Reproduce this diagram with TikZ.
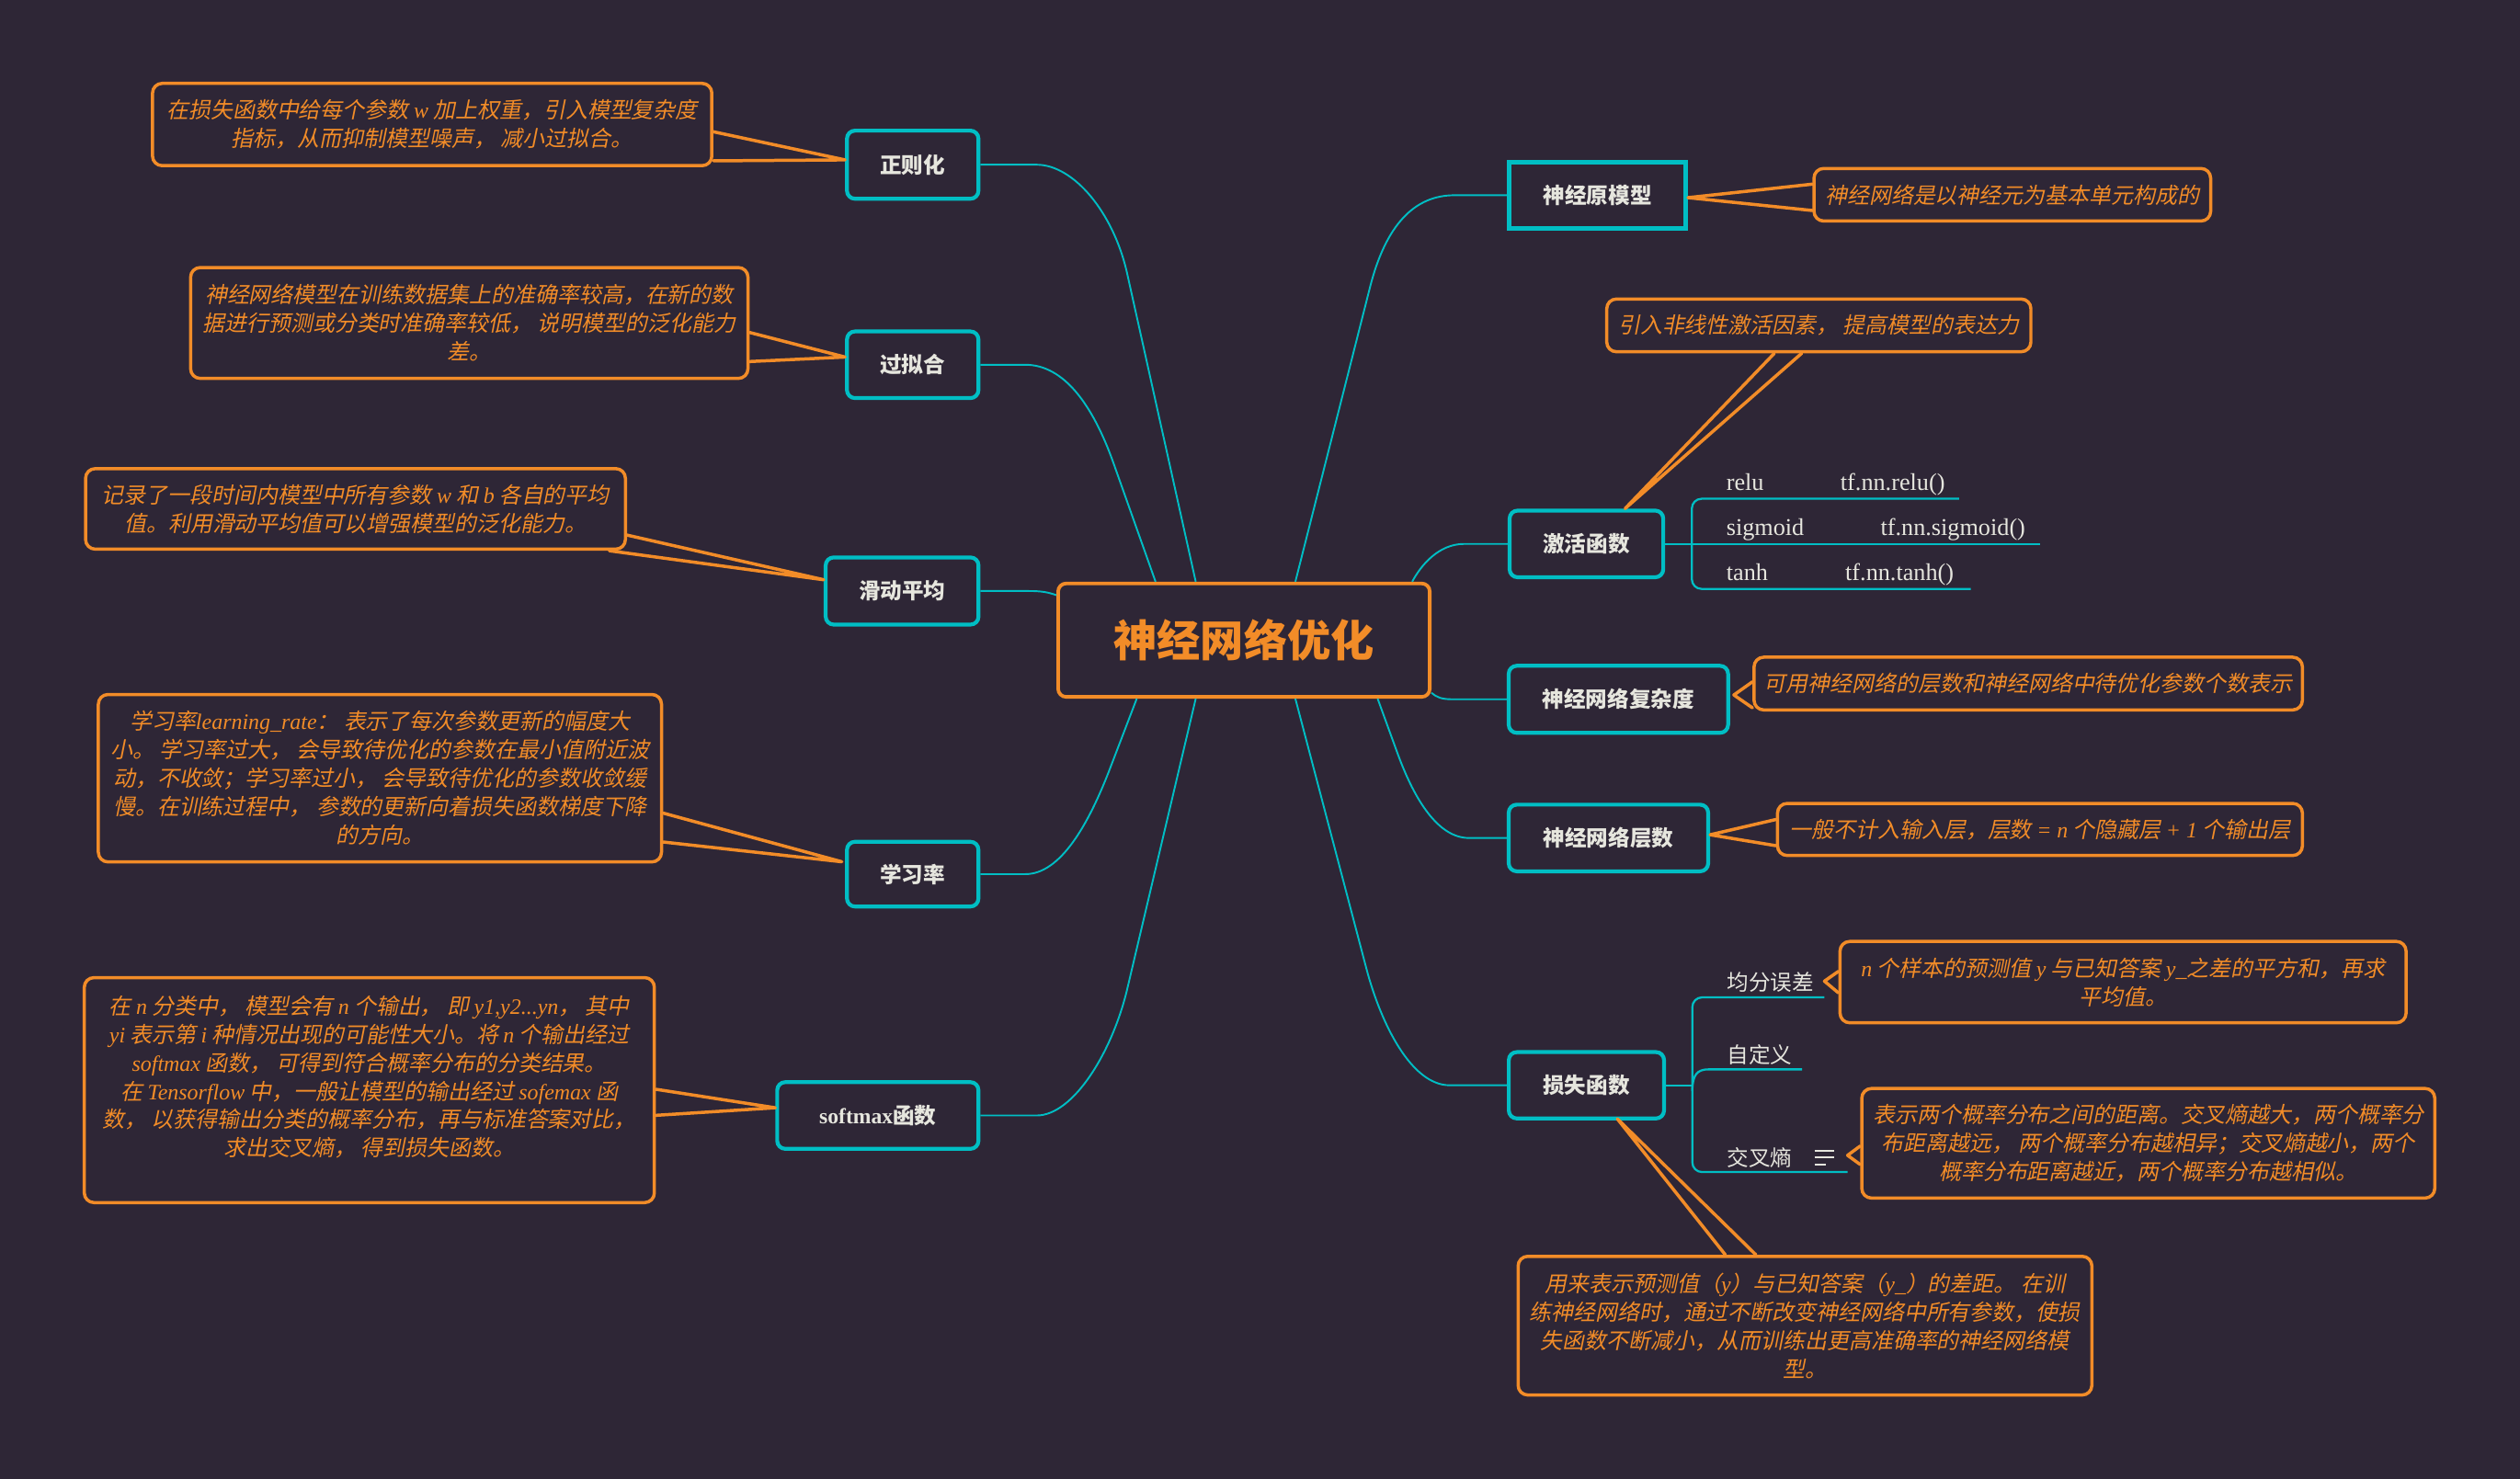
\documentclass[tikz,border=0pt]{standalone}
\usepackage{fontspec}
\setmainfont{Liberation Serif}
\newfontfamily\cjk{Noto Sans CJK SC}
\newfontfamily\cjkit{Noto Sans CJK SC}[FakeSlant=0.2]
\usetikzlibrary{calc}
\definecolor{bg}{RGB}{46,38,54}
\definecolor{org}{RGB}{242,140,40}
\definecolor{cyn}{RGB}{0,190,196}
\definecolor{lgt}{RGB}{230,230,222}
\newcommand\latn[1]{{\rmfamily\itshape #1}}
\tikzset{
  topic/.style={draw=cyn, line width=2.4pt, rounded corners=5pt, fill=bg, text=lgt,
    font=\cjk\bfseries\fontsize{13.5}{16}\selectfont, inner sep=0pt},
  desc/.style={draw=org, line width=2pt, rounded corners=6pt, fill=bg, text=org,
    font=\cjkit\fontsize{13.7}{17.7}\selectfont, align=center, inner sep=1pt},
  link/.style={draw=cyn, line width=1.1pt},
  sublink/.style={draw=cyn, line width=1.3pt},
  wedge/.style={draw=org, line width=2pt, line join=round, line cap=round},
  subA/.style={text=lgt, inner sep=0pt, anchor=base west, font=\rmfamily\fontsize{15}{18}\selectfont},
  subB/.style={text=lgt, inner sep=0pt, anchor=base west, font=\cjk\fontsize{13.5}{16}\selectfont},
}
\begin{document}
\begin{tikzpicture}[x=1pt,y=-1pt]
\fill[bg] (0,0) rectangle (1568,920.4);
\useasboundingbox (0,0) rectangle (1568,920.4);

% root
\node[draw=org, line width=2.2pt, rounded corners=5pt, fill=bg, text=org,
  font=\cjk\bfseries\fontsize{27}{30}\selectfont, minimum width=231.2pt, minimum height=70.6pt, inner sep=0pt]
  (root) at (774,398.4) {神经网络优化};

% left topics
\node[topic, minimum width=81.8pt, minimum height=42.4pt] (n1) at (567.9,102.5) {正则化};
\node[topic, minimum width=81.8pt, minimum height=41.5pt] (n2) at (567.9,227) {过拟合};
\node[topic, minimum width=95.1pt, minimum height=41.8pt] (n3) at (561.3,367.8) {滑动平均};
\node[topic, minimum width=81.8pt, minimum height=40.3pt] (n4) at (567.9,544) {学习率};
\node[topic, minimum width=125.2pt, minimum height=41.5pt] (n5) at (546.2,694.2) {{\rmfamily\bfseries softmax}函数};

% right topics
\node[topic, rounded corners=0pt, line width=2.8pt, minimum width=109.8pt, minimum height=41.5pt] (r1) at (994,121.5) {神经原模型};
\node[topic, minimum width=95.6pt, minimum height=41.5pt] (r2) at (987.1,338.5) {激活函数};
\node[topic, minimum width=136.5pt, minimum height=41.7pt] (r3) at (1007,435.2) {神经网络复杂度};
\node[topic, minimum width=124.1pt, minimum height=41.5pt] (r4) at (1000.8,521.5) {神经网络层数};
\node[topic, minimum width=96.6pt, minimum height=41.3pt] (r5) at (987.1,675.4) {损失函数};

% left descriptions
\node[desc, minimum width=348pt, minimum height=51.2pt] (d1) at (268.9,77.5)
 {在损失函数中给每个参数 \latn{w} 加上权重，引入模型复杂度\\指标，从而抑制模型噪声， 减小过拟合。};
\node[desc, minimum width=346.8pt, minimum height=69pt] (d2) at (292,201)
 {神经网络模型在训练数据集上的准确率较高，在新的数\\据进行预测或分类时准确率较低， 说明模型的泛化能力\\差。};
\node[desc, minimum width=335.9pt, minimum height=50.1pt] (d3) at (221.2,316.7)
 {记录了一段时间内模型中所有参数 \latn{w} 和 \latn{b} 各自的平均\\值。利用滑动平均值可以增强模型的泛化能力。};
\node[desc, minimum width=350.4pt, minimum height=104.2pt] (d4) at (236.4,484.3)
 {学习率\latn{learning\_rate}： 表示了每次参数更新的幅度大\\小。 学习率过大， 会导致待优化的参数在最小值附近波\\动，不收敛；学习率过小， 会导致待优化的参数收敛缓\\慢。在训练过程中， 参数的更新向着损失函数梯度下降\\的方向。};
\node[desc, minimum width=354.7pt, minimum height=140pt] (d5) at (229.8,678.4)
 {在 \latn{n} 分类中， 模型会有 \latn{n} 个输出， 即 \latn{y1,y2...yn}， 其中\\\latn{yi} 表示第 \latn{i} 种情况出现的可能性大小。将 \latn{n} 个输出经过\\\latn{softmax} 函数， 可得到符合概率分布的分类结果。\\在 \latn{Tensorflow} 中，一般让模型的输出经过 \latn{sofemax} 函\\数， 以获得输出分类的概率分布，再与标准答案对比，\\求出交叉熵， 得到损失函数。\\\mbox{}};

% right descriptions
\node[desc, minimum width=246.8pt, minimum height=32.7pt] (e1) at (1252.1,121.2) {神经网络是以神经元为基本单元构成的};
\node[desc, minimum width=263.9pt, minimum height=32.8pt] (e2) at (1131.7,202.5) {引入非线性激活因素， 提高模型的表达力};
\node[desc, minimum width=341.2pt, minimum height=32.8pt] (e3) at (1262,425.4) {可用神经网络的层数和神经网络中待优化参数个数表示};
\node[desc, minimum width=326.6pt, minimum height=32.4pt] (e4) at (1269.3,516.2) {一般不计入输入层，层数 \latn{= n} 个隐藏层 \latn{+ 1} 个输出层};
\node[desc, minimum width=352.2pt, minimum height=50.6pt] (e5) at (1321,611.2)
 {\latn{n} 个样本的预测值 \latn{y} 与已知答案 \latn{y\_}之差的平方和，再求\\平均值。};
\node[desc, minimum width=356.5pt, minimum height=68.2pt] (e6) at (1336.7,711.5)
 {表示两个概率分布之间的距离。交叉熵越大，两个概率分\\布距离越远， 两个概率分布越相异；交叉熵越小，两个\\概率分布距离越近，两个概率分布越相似。};
\node[desc, minimum width=357pt, minimum height=86.3pt] (e7) at (1123.1,825)
 {用来表示预测值（\latn{y}）与已知答案（\latn{y\_}）的差距。 在训\\练神经网络时，通过不断改变神经网络中所有参数，使损\\失函数不断减小，从而训练出更高准确率的神经网络模\\型。};

% cyan links from root
\draw[link] ($(root.north)+(-30,0)$) -- (701.4,170.5) .. controls (692.9,132.2) and (668,102.5) .. (645,102.5) -- (n1.east);
\draw[link] ($(root.north)+(-55,0)$) -- (692.9,288.4) .. controls (680,252) and (662,227) .. (638,227) -- (n2.east);
\draw[link] ($(root.west)+(0,-28)$) .. controls (652,368.5) and (648,367.8) .. (640,367.8) -- (n3.east);
\draw[link] ($(root.south)+(-66.7,0)$) -- (690,480) .. controls (677.3,512.6) and (660,544) .. (638,544) -- (n4.east);
\draw[link] ($(root.south)+(-30,0)$) -- (701.4,615.4) .. controls (692.2,654.3) and (668,694.2) .. (645,694.2) -- (n5.east);
\draw[link] ($(root.north)+(32,0)$) -- (852.4,178.9) .. controls (862.2,140.1) and (880,121.5) .. (905,121.5) -- (r1.west);
\draw[link] ($(root.north)+(104.7,0)$) .. controls (884,352) and (895,338.5) .. (911,338.5) -- (r2.west);
\draw[link] ($(root.east)+(0,32.8)$) .. controls (894,434) and (897,435.2) .. (904,435.2) -- (r3.west);
\draw[link] ($(root.south)+(83.2,0)$) -- (870,470) .. controls (880.4,498.1) and (895,521.5) .. (914,521.5) -- (r4.west);
\draw[link] ($(root.south)+(32,0)$) -- (850.2,602.8) .. controls (859.1,636.6) and (878,675.4) .. (902,675.4) -- (r5.west);

% activation sub-branches
\coordinate (reluend) at (1219,310.4);
\coordinate (tanhend) at (1226.3,366.5);
\coordinate (sigend) at (1269.6,338.5);
\draw[sublink, rounded corners=6pt] (reluend) -- (1052.7,310.4) -- (1052.7,366.5) -- (tanhend);
\draw[sublink] (r2.east) -- (sigend);
\node[subA] (relu) at (1074,305.4) {relu};
\node[subA] (relufn) at (1145,305.4) {tf.nn.relu()};
\node[subA] (sig) at (1074,333.3) {sigmoid};
\node[subA] (sigfn) at (1170,333.3) {tf.nn.sigmoid()};
\node[subA] (tanh) at (1074,361.5) {tanh};
\node[subA] (tanhfn) at (1148,361.5) {tf.nn.tanh()};

% loss sub-branches
\coordinate (mseend) at (1135.2,620.7);
\coordinate (zdyend) at (1121.3,665.5);
\coordinate (ceend) at (1149.6,729.4);
\coordinate (lossfork) at (1053,675.4);
\draw[sublink, rounded corners=6pt] (mseend) -- (1053,620.7) -- (1053,729.4) -- (ceend);
\draw[sublink] (r5.east) -- (lossfork);
\draw[sublink] (1053,679) .. controls (1053,669) and (1056,665.5) .. (1063,665.5) -- (zdyend);
\node[subB] (mse) at (1074.5,616.3) {均分误差};
\node[subB] (zdy) at (1074.5,661.8) {自定义};
\node[subB] (ce) at (1074.5,725.6) {交叉熵};
\draw[lgt, line width=1.2pt] (1129,716) -- (1141,716) (1129,720.3) -- (1141,720.3) (1129,724.6) -- (1136,724.6);

% orange callout wedges
\draw[wedge] ($(d1.east)+(0,4.5)$) -- ($(n1.west)+(0,-3)$) -- ($(d1.east)+(0,22.6)$);
\draw[wedge] ($(d2.east)+(0,5.9)$) -- ($(n2.west)+(0,-4.8)$) -- ($(d2.east)+(0,24)$);
\draw[wedge] ($(d3.east)+(0,16.3)$) -- ($(n3.west)+(0,-7)$) -- ($(d3.south east)+(-11,0)$);
\draw[wedge] ($(d4.east)+(0,21.7)$) -- ($(n4.west)+(-2,-7.7)$) -- ($(d4.east)+(0,39.7)$);
\draw[wedge] ($(d5.east)+(0,-0.5)$) -- ($(n5.west)+(0,-4.8)$) -- ($(d5.east)+(0,15.7)$);
\draw[wedge] ($(e1.west)+(0,-6.6)$) -- ($(r1.east)+(0,1.5)$) -- ($(e1.west)+(0,9.8)$);
\draw[wedge] ($(e2.south)+(-27.7,0)$) -- ($(r2.north)+(24,0)$) -- ($(e2.south)+(-10.7,0)$);
\draw[wedge] ($(e3.west)+(0,-1.1)$) -- ($(r3.east)+(2.4,-2.7)$) -- ($(e3.west)+(0,15.1)$);
\draw[wedge] ($(e4.west)+(0,-6.2)$) -- ($(r4.east)+(0,-2)$) -- ($(e4.west)+(0,10.1)$);
\draw[wedge] ($(e5.west)+(0,-6.7)$) -- ($(mseend)+(0,-10.1)$) -- ($(e5.west)+(0,6.7)$);
\draw[wedge] ($(e6.west)+(0,1.7)$) -- ($(ceend)+(0,-10.4)$) -- ($(e6.west)+(0,13.2)$);
\draw[wedge] ($(e7.north)+(-49.6,0)$) -- ($(r5.south)+(19.2,-1)$) -- ($(e7.north)+(-30.6,0)$);
\end{tikzpicture}
\end{document}
